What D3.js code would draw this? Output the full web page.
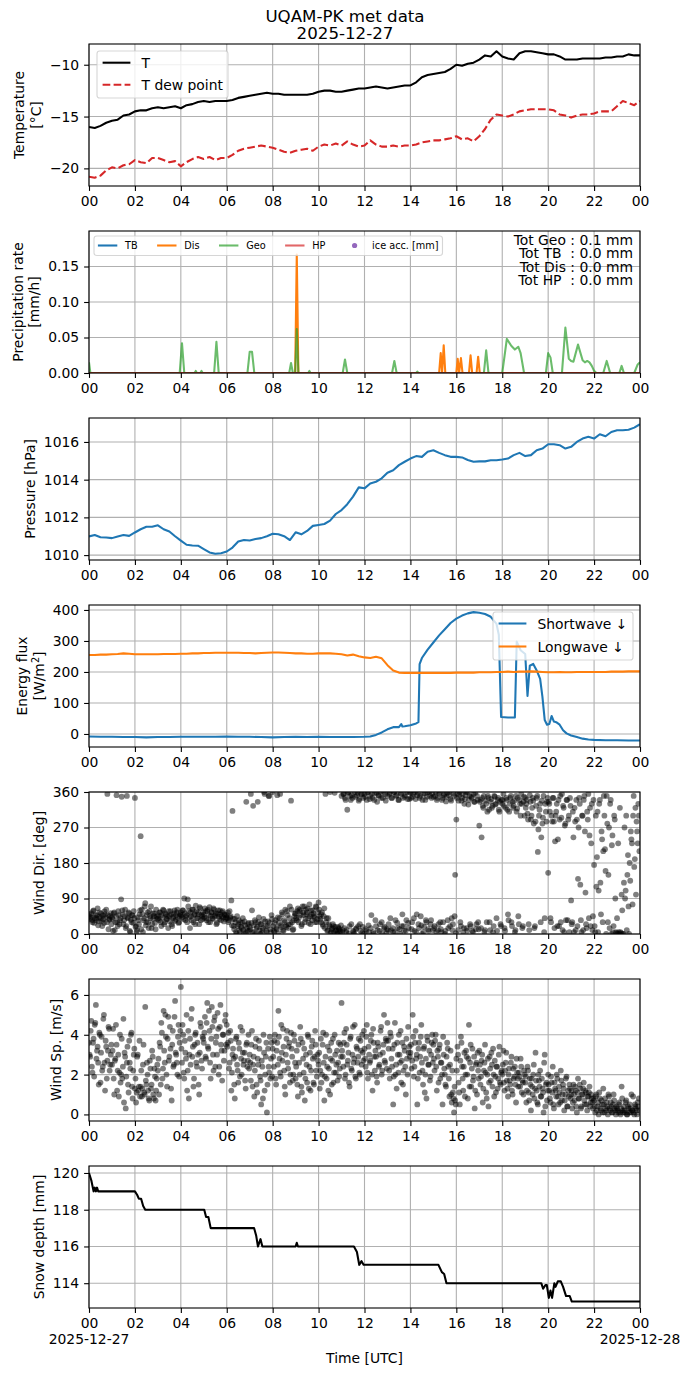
<!DOCTYPE html>
<html lang="en">
<head>
<meta charset="utf-8">
<title>UQAM-PK met data</title>
<script src="https://cdn.jsdelivr.net/npm/d3@7"></script>
<style>
  body { margin: 0; background: #fff; }
  svg text { font-family: "DejaVu Sans", sans-serif; fill: #000; }
  .tick text { font-size: 13.9px; }
  .tick line { stroke: #000; stroke-width: 1.1px; }
  .grid line { stroke: #b0b0b0; stroke-width: 1.1px; }
  .lbl { font-size: 13.9px; }
</style>
</head>
<body>
<svg id="fig" width="690" height="1377"></svg>
<script>
// ---------- data, hours UTC on 2025-12-27 ----------
// 15-minute samples (0, 0.25, ... 24 h)
const quarterHours = d3.range(0, 24.001, 0.25);

const tempAir = [
  -16.0,-16.1,-15.9,-15.6,  -15.4,-15.3,-14.9,-14.8,  -14.5,-14.4,-14.4,-14.2,
  -14.1,-14.2,-14.1,-14.0,  -14.2,-13.9,-13.8,-13.6,  -13.5,-13.6,-13.5,-13.5,
  -13.5,-13.4,-13.2,-13.1,  -13.0,-12.9,-12.8,-12.7,  -12.8,-12.8,-12.9,-12.9,
  -12.9,-12.9,-12.9,-12.8,  -12.6,-12.5,-12.5,-12.6,  -12.6,-12.5,-12.4,-12.3,
  -12.3,-12.2,-12.1,-12.2,  -12.3,-12.2,-12.1,-12.0,  -12.0,-11.7,-11.2,-11.0,
  -10.9,-10.8,-10.7,-10.4,  -10.0,-10.1,-9.9,-9.8,    -9.5,-9.1,-9.2,-8.7,
  -9.2,-9.4,-9.5,-8.9,      -8.7,-8.7,-8.8,-8.9,      -9.0,-9.0,-9.2,-9.5,
  -9.5,-9.5,-9.4,-9.4,      -9.4,-9.4,-9.3,-9.3,      -9.2,-9.2,-9.0,-9.1,
  -9.1
];
const tempDew = [
  -20.8,-20.9,-20.7,-20.2,  -19.9,-20.0,-19.7,-19.6,  -19.2,-19.4,-19.5,-19.0,
  -19.0,-19.2,-19.4,-19.3,  -19.8,-19.4,-19.1,-18.9,  -19.1,-18.9,-19.2,-19.0,
  -19.0,-18.7,-18.3,-18.1,  -18.0,-17.9,-17.8,-17.9,  -18.0,-18.2,-18.4,-18.5,
  -18.3,-18.2,-18.1,-18.3,  -17.9,-17.7,-17.8,-17.6,  -17.8,-17.4,-17.7,-17.9,
  -17.8,-17.3,-17.7,-17.9,  -17.9,-17.8,-17.9,-17.8,  -17.8,-17.7,-17.5,-17.4,
  -17.3,-17.3,-17.2,-17.1,  -16.9,-17.2,-17.1,-17.4,  -16.9,-16.2,-15.3,-14.8,
  -14.9,-15.0,-14.8,-14.5,  -14.4,-14.3,-14.3,-14.3,  -14.3,-14.4,-14.8,-14.9,
  -15.1,-14.9,-14.8,-14.8,  -14.7,-14.5,-14.5,-14.5,  -14.0,-13.5,-13.7,-13.9,
  -13.5
];
const pressure = [
  1010.99,1011.07,1010.95,1010.93, 1010.90,1010.99,1011.07,1011.02,
  1011.20,1011.37,1011.50,1011.50, 1011.58,1011.37,1011.25,1011.00,
  1010.77,1010.55,1010.51,1010.50, 1010.32,1010.14,1010.07,1010.10,
  1010.19,1010.40,1010.72,1010.80, 1010.77,1010.85,1010.90,1011.00,
  1011.13,1011.11,1011.00,1010.80, 1011.21,1011.10,1011.28,1011.55,
  1011.60,1011.65,1011.83,1012.18, 1012.39,1012.70,1013.10,1013.59,
  1013.54,1013.80,1013.89,1014.07, 1014.37,1014.50,1014.77,1014.95,
  1015.12,1015.25,1015.21,1015.48, 1015.56,1015.42,1015.30,1015.21,
  1015.21,1015.18,1015.04,1014.95, 1014.97,1014.97,1015.03,1015.03,
  1015.07,1015.12,1015.30,1015.42, 1015.25,1015.30,1015.56,1015.65,
  1015.88,1015.88,1015.83,1015.65, 1015.74,1016.00,1016.18,1016.27,
  1016.18,1016.41,1016.30,1016.53, 1016.62,1016.62,1016.65,1016.76,
  1016.94
];
const longwave = [
  255,255,256,256, 257,258,260,259, 257,257,257,257, 257,258,258,258,
  259,259,260,260, 261,261,262,262, 262,262,262,261, 261,260,261,262,
  263,263,262,261, 260,260,259,259, 260,260,260,259, 257,253,256,251,
  247,245,249,244, 222,205,198,197, 197,197,197,197, 197,197,197,197,
  198,198,198,198, 199,199,199,200, 200,201,200,201, 201,202,201,200,
  199,199,200,199, 199,200,200,200, 200,200,200,201, 201,201,202,202,
  202
];

// shortwave, irregular times (sharp cloud edges)
const swHours = [0,0.5,1,1.5,2,2.5,3,3.5,4,4.5,5,5.5,6,6.5,7,7.5,8,8.5,9,9.5,10,10.5,11,11.5,
  12,12.25,12.5,12.75,13,13.25,13.5,13.6,13.65,13.75,14,14.25,14.35,14.4,14.5,14.75,
  15,15.25,15.5,15.75,16,16.25,16.5,16.75,17,17.25,17.5,17.75,17.85,17.95,18.25,18.55,
  18.63,18.8,19.0,19.1,19.2,19.35,19.5,19.65,19.75,19.85,19.95,20.05,20.15,20.25,20.35,
  20.5,20.65,20.8,21.0,21.25,21.5,21.75,22,22.5,23,23.5,24];
const swFlux = [-8,-9,-9,-10,-10,-11,-10,-10,-9,-9,-9,-9,-8,-9,-9,-10,-11,-10,-9,-10,-9,-10,-10,-10,
  -9,-8,-3,5,15,22,22,32,24,25,28,34,38,225,245,272,
  295,318,338,358,372,382,389,393,391,387,378,355,320,55,53,53,
  298,270,258,123,220,226,205,178,120,45,30,32,58,40,38,
  30,12,2,-5,-10,-15,-18,-19,-20,-20,-21,-21];

// precipitation rate [mm/h]
const geoHours = [0,0.06,3.95,4.05,4.15,4.6,4.65,4.7,4.85,4.9,4.95,5.45,5.55,5.65,6.9,7.0,7.1,7.2,
  8.72,8.8,8.88,8.98,9.05,9.12,9.55,9.6,9.65,11.05,11.15,11.25,13.2,13.3,13.4,14.25,14.3,14.35,
  17.2,17.3,17.4,18.0,18.2,18.4,18.55,18.7,18.8,18.95,19.9,20.0,20.1,20.2,
  20.6,20.75,20.9,21.0,21.1,21.3,21.5,21.6,21.7,21.8,21.9,22.0,22.1,22.4,22.55,22.7,
  23.1,23.2,23.3,23.75,23.9,24];
const geoRate = [0.015,0,0,0.042,0,0,0.003,0,0,0.003,0,0,0.044,0,0,0.030,0.030,0,
  0,0.014,0,0,0.062,0,0,0.003,0,0,0.019,0,0,0.017,0,0,0.002,0,
  0,0.032,0,0,0.048,0.038,0.033,0.037,0.028,0,0,0.028,0.022,0,
  0,0.064,0.020,0.017,0.016,0.040,0.018,0.015,0.017,0.015,0.010,0.003,0,0,0.017,0,
  0,0.010,0,0,0.012,0.015];
const disHours = [0,8.98,9.05,9.12,15.25,15.32,15.38,15.45,15.52,16.0,16.06,16.12,16.2,16.27,
  16.55,16.62,16.69,16.88,16.95,17.02,24];
const disRate = [0,0,0.167,0,0,0.028,0,0.039,0,0,0.020,0,0.021,0,0,0.025,0,0,0.023,0,0];
const tbHours = [0, 24], tbRate = [0, 0];
const hpHours = [0, 24], hpRate = [0, 0];
const precipTotals = ["Tot Geo : 0.1 mm", "Tot TB  : 0.0 mm", "Tot Dis : 0.0 mm", "Tot HP  : 0.0 mm"];

// wind, sampled every 3 minutes (20 per hour), two interleaved readings
const windDir = [
  45,38,52,30,60,41,35,48,22,55,40,33,47,28,50,62,355,12,38,53,
  42,8,55,30,352,20,48,35,88,60,25,45,15,350,40,52,5,30,47,58,
  345,20,10,35,50,248,62,5,40,78,30,55,15,45,70,25,38,52,12,44,
  48,35,55,20,42,60,30,50,38,15,45,58,25,40,52,33,48,62,28,45,
  55,42,60,90,35,48,88,58,15,45,62,30,50,72,40,55,25,65,48,38,
  50,65,40,58,30,68,45,55,38,62,48,25,52,44,60,35,55,42,50,38,
  48,55,35,42,85,312,20,38,5,45,25,10,30,15,40,2,22,335,8,28,
  18,355,60,325,5,30,15,335,42,0,25,10,38,355,20,5,32,350,12,48,
  360,8,28,15,352,2,40,22,55,10,35,62,18,48,25,70,338,30,12,45,
  52,35,65,42,58,20,70,48,30,62,55,40,75,25,50,60,45,30,68,38,
  80,45,30,55,20,65,355,40,10,25,360,5,15,20,358,8,2,18,12,5,
  350,10,355,345,5,315,360,20,340,352,8,0,348,15,358,338,25,355,3,345,
  355,12,340,360,5,350,48,345,0,358,20,335,352,8,360,30,345,15,355,2,
  350,25,358,10,345,5,360,35,352,15,340,0,355,50,20,348,8,360,28,342,
  358,12,348,40,360,5,352,25,345,45,0,355,18,340,30,360,8,350,35,356,
  348,20,360,340,10,355,30,5,345,352,0,336,358,15,360,342,40,25,350,150,
  290,355,338,360,20,345,5,330,352,15,360,340,25,348,8,355,335,12,350,30,
  275,340,245,325,350,10,330,310,345,30,335,320,5,350,328,40,340,315,335,20,
  330,355,15,320,340,50,310,345,30,335,325,5,350,318,45,340,300,330,20,348,
  345,330,305,25,352,290,320,338,15,285,345,208,300,330,245,280,350,40,310,335,
  155,330,40,300,345,285,235,310,20,340,290,30,355,325,5,280,340,35,300,345,
  85,30,245,320,10,290,140,345,125,5,300,340,260,25,310,355,250,20,330,45,
  175,5,120,310,110,340,50,240,210,300,160,350,30,270,330,0,250,20,290,5,
  40,230,0,5,100,0,130,90,300,150,70,180,260,230,300,170,320,285,230,300
];
const windDirB = [
  50,42,35,58,28,47,40,65,32,44,52,20,38,57,43,30,48,36,45,25,
  38,52,10,45,30,58,25,40,348,50,35,62,20,42,55,8,36,48,28,40,
  18,5,42,25,60,12,50,35,70,22,48,30,58,40,15,52,45,28,62,38,
  40,55,30,48,62,25,52,38,45,58,32,50,20,44,60,36,55,42,30,50,
  48,60,38,52,45,30,70,42,55,35,62,48,25,58,40,50,68,35,45,55,
  42,58,35,62,48,30,55,40,65,45,52,28,60,38,50,45,58,32,48,42,
  40,30,58,45,22,38,12,30,0,20,35,5,18,28,10,32,2,15,25,8,
  12,28,5,22,35,0,18,30,10,25,2,15,360,32,8,20,350,28,5,38,
  20,5,35,12,42,28,355,18,50,8,30,22,58,15,40,25,62,10,35,52,
  40,58,30,62,48,25,55,70,38,50,65,28,45,60,35,52,42,70,30,55,
  62,38,50,25,45,15,30,8,40,20,2,12,25,5,18,10,0,15,8,22,
  5,355,15,340,10,358,0,350,25,345,5,360,12,352,20,342,8,355,18,0,
  348,8,360,22,342,15,355,5,340,35,358,10,350,25,345,2,360,18,338,12,
  10,355,40,345,15,360,5,350,28,340,12,358,20,345,8,352,35,342,15,360,
  345,30,355,8,342,50,358,15,350,22,340,5,356,35,348,12,360,25,345,10,
  15,350,5,345,25,358,12,340,30,355,8,348,35,352,20,338,10,356,45,2,
  345,10,352,30,338,355,15,342,360,8,328,350,20,345,5,335,358,25,340,12,
  335,15,345,320,5,338,30,350,315,10,342,325,20,348,330,8,345,310,25,340,
  340,325,8,345,315,35,330,350,20,320,338,10,310,345,25,330,355,15,335,300,
  320,340,290,10,335,300,345,280,20,325,350,265,315,30,338,295,5,330,285,345,
  335,310,30,285,345,15,300,330,240,20,350,295,10,320,275,35,340,290,5,325,
  25,310,5,285,340,20,270,330,35,300,10,350,105,15,290,40,320,230,10,340,
  20,300,195,5,330,130,260,30,350,215,0,280,150,15,340,225,5,300,90,2,
  0,5,320,2,60,0,270,110,10,200,0,135,240,75,350,190,100,260,330,210
];
const windSpeed = [
  3.6,2.9,4.7,2.1,3.8,4.5,5.5,3.2,2.6,4.1,1.6,3.9,2.4,5.0,1.2,3.4,2.7,4.4,2.2,3.0,
  2.5,4.3,1.0,2.8,3.5,2.2,0.9,4.0,2.0,1.8,4.8,3.1,0.3,2.6,1.5,3.7,2.3,4.1,0.8,3.0,
  1.3,0.6,2.9,1.2,3.7,1.4,0.9,2.5,1.1,5.4,1.5,2.0,0.8,2.7,1.3,3.2,1.0,2.3,0.7,1.8,
  2.2,1.0,3.4,4.6,1.8,5.2,2.6,3.9,1.4,4.9,2.9,3.3,0.7,4.2,2.5,5.7,3.0,2.0,4.5,3.6,
  6.4,2.6,4.0,1.8,3.1,5.0,2.2,0.8,3.8,4.8,2.9,1.4,3.5,4.1,2.4,3.0,1.0,4.6,2.7,3.9,
  3.6,4.9,2.8,5.6,3.3,4.2,1.8,5.4,3.0,4.7,2.4,3.9,5.1,2.0,4.4,3.5,1.7,4.0,3.2,5.0,
  4.5,3.6,2.3,4.2,1.2,3.0,2.8,0.8,3.8,2.5,1.6,3.3,4.4,2.0,3.1,2.7,1.7,3.5,2.4,4.0,
  3.0,1.7,4.2,2.5,0.9,3.4,1.5,2.8,3.7,1.9,0.5,2.4,4.0,1.2,2.9,0.1,3.3,2.1,1.8,3.6,
  3.3,2.4,4.0,1.5,3.6,5.2,2.8,1.9,3.1,4.3,2.2,1.0,3.8,2.6,3.4,1.6,4.1,2.9,2.0,3.7,
  1.8,3.2,0.9,2.6,4.4,1.4,3.6,2.1,0.7,3.0,1.6,3.9,2.4,1.2,3.4,2.8,1.5,4.2,2.2,3.0,
  2.5,1.3,3.8,2.0,4.1,0.7,2.9,1.8,3.4,2.3,1.0,3.6,2.7,1.6,4.0,2.1,3.2,2.6,1.9,3.5,
  5.6,2.9,3.6,1.8,4.3,2.5,3.1,1.4,3.9,2.2,4.4,2.8,1.9,3.4,2.6,3.8,2.0,3.2,4.0,2.7,
  3.3,2.4,4.5,1.8,3.0,2.7,4.0,1.2,3.6,2.2,2.9,1.6,3.4,2.5,4.2,2.0,3.1,5.0,2.6,3.7,
  4.6,3.3,1.8,3.9,2.4,0.5,3.5,2.0,1.3,3.0,4.0,2.6,1.6,3.6,2.2,3.2,1.0,2.8,4.4,3.4,
  3.1,2.3,5.0,1.9,3.6,2.8,0.5,3.3,2.1,3.9,2.6,1.5,3.4,2.0,0.8,3.7,2.5,1.7,3.0,4.0,
  3.5,2.2,4.0,1.2,2.9,3.3,1.8,2.6,0.5,3.0,2.0,1.4,3.6,2.4,0.9,3.2,0.6,1.1,0.1,0.7,
  2.8,3.4,1.6,0.5,3.9,2.4,1.2,3.1,2.0,2.9,0.8,4.5,2.6,1.4,3.3,1.9,0.3,2.5,1.0,2.2,
  3.2,1.5,2.7,0.6,2.2,3.5,1.1,2.0,0.4,2.9,1.7,2.5,3.3,0.9,1.9,2.4,1.3,3.0,1.6,2.1,
  2.0,3.2,1.2,2.6,1.7,0.9,2.3,1.5,2.9,1.0,1.8,2.4,0.6,2.1,1.4,1.9,2.8,1.1,1.6,2.2,
  1.6,0.6,2.4,1.1,1.8,0.2,1.4,2.0,0.8,3.1,1.2,0.5,1.7,2.2,0.9,1.3,0.1,3.0,1.5,0.7,
  2.0,1.2,0.6,1.6,2.4,0.3,1.3,0.9,1.8,0.5,1.1,2.2,0.7,1.5,0.2,1.0,1.9,0.4,0.9,1.3,
  1.0,0.3,1.5,0.7,1.2,0.1,1.8,0.8,1.3,0.4,1.0,1.6,0.5,1.1,0.2,0.9,1.4,0.6,0.8,0.3,
  0.7,0.1,1.0,0.4,0.0,0.8,0.2,0.5,1.3,0.1,0.3,0.6,0.0,0.9,0.2,0.4,0.1,1.0,0.3,0.0,
  0.3,0.1,0.6,0.0,1.4,0.2,0.4,0.1,0.7,0.0,0.3,0.5,0.1,0.2,0.9,0.0,0.4,0.2,0.6,0.8
];
const windSpeedB = [
  3.0,4.2,2.4,3.6,1.9,4.6,2.8,3.4,1.5,4.0,3.1,2.2,4.8,2.6,3.7,1.8,3.2,4.3,2.5,3.5,
  3.2,1.8,2.7,4.5,1.2,3.0,2.1,1.6,3.8,2.4,0.6,2.9,1.9,3.4,1.1,2.6,4.0,1.4,2.2,3.3,
  1.8,1.1,3.0,1.4,0.9,2.2,1.3,3.5,1.0,1.7,2.6,1.2,0.7,2.3,1.5,2.9,0.8,1.9,1.2,2.5,
  2.8,3.6,1.5,4.1,2.3,3.2,5.0,2.0,3.8,2.7,4.4,1.3,3.5,2.4,4.9,3.1,2.6,3.9,1.9,4.2,
  3.3,4.5,2.1,3.7,2.8,1.2,4.2,3.0,2.5,5.3,3.4,1.8,4.0,2.6,3.6,1.5,3.1,4.4,2.3,3.8,
  4.1,2.9,4.6,3.4,5.2,2.6,3.8,4.4,2.2,4.9,3.6,3.0,4.3,2.4,5.5,3.2,4.0,2.7,4.7,3.5,
  3.4,4.1,2.6,3.7,2.1,3.3,1.5,2.9,3.9,2.2,3.6,1.9,2.8,4.2,2.5,3.1,1.3,3.6,2.7,2.3,
  2.6,3.5,1.4,2.9,2.2,3.8,1.1,2.5,3.3,1.7,2.7,0.8,3.1,2.0,3.6,1.5,2.4,3.9,2.8,1.9,
  2.9,3.7,1.8,3.2,2.5,3.9,2.1,4.5,2.7,3.4,1.4,3.0,4.2,2.3,3.6,2.0,3.3,1.7,4.0,2.6,
  2.4,1.5,3.5,2.0,3.8,1.1,2.8,3.3,1.8,2.5,4.0,1.3,3.1,2.2,3.7,1.6,2.9,3.5,1.9,2.7,
  3.1,2.2,1.6,3.5,2.6,1.9,4.0,2.4,1.2,3.2,2.8,1.5,3.8,2.1,3.0,2.5,1.7,3.6,2.3,2.9,
  3.2,2.4,4.1,2.0,3.5,2.7,1.6,3.8,2.3,3.0,2.6,4.5,1.8,3.3,2.9,2.1,3.7,2.5,3.1,4.2,
  2.8,3.9,2.1,3.4,2.6,3.7,2.0,4.3,2.9,3.2,1.9,3.6,2.4,3.0,4.4,2.2,3.5,2.7,3.8,2.3,
  3.7,2.2,4.1,2.8,3.3,1.9,4.6,2.5,3.6,2.1,3.0,4.2,2.7,1.5,3.4,2.4,3.8,2.0,3.1,2.9,
  3.5,2.7,3.9,2.4,4.2,3.0,1.8,3.6,2.9,4.5,2.2,3.3,1.1,2.8,3.9,2.5,3.2,1.9,3.6,2.6,
  2.8,3.7,2.4,3.2,1.6,3.5,2.6,2.0,3.9,2.3,1.5,2.9,3.3,1.8,2.5,1.0,2.2,0.8,1.4,0.5,
  2.2,3.0,1.1,2.7,3.6,1.8,2.4,0.9,3.2,2.0,2.8,1.4,3.5,2.3,1.7,2.9,1.2,2.6,3.1,1.8,
  2.5,1.9,3.0,1.3,2.6,2.1,0.8,2.8,1.6,2.3,3.1,1.4,2.0,2.7,1.1,2.4,1.8,3.4,1.5,2.2,
  2.5,1.6,2.2,3.1,1.3,2.0,1.7,2.6,1.2,2.3,1.9,1.5,2.8,1.8,2.1,1.4,2.4,1.7,1.0,2.0,
  1.9,1.2,2.2,0.7,1.5,1.8,1.0,2.5,1.3,1.7,0.6,2.0,1.4,0.9,1.8,1.1,2.6,0.4,1.6,1.2,
  1.5,0.8,1.9,1.1,0.5,1.6,1.2,2.0,0.9,1.4,0.6,1.7,1.0,1.3,0.7,1.8,0.4,1.2,1.5,0.8,
  1.2,0.6,1.0,1.4,0.4,1.1,0.8,1.5,0.3,1.0,1.3,0.7,1.2,0.5,0.9,1.1,0.4,1.0,0.6,0.8,
  0.4,0.9,0.2,0.6,1.1,0.3,0.7,0.1,0.5,0.8,0.2,0.4,1.0,0.3,0.6,0.1,0.5,0.7,0.2,0.4,
  0.2,0.5,0.1,0.3,0.8,0.1,0.2,0.6,0.0,0.4,0.1,0.3,1.0,0.2,0.1,0.5,0.3,0.0,0.4,0.2
];
const windHours = windSpeed.map((_, i) => i * 0.05);
const windHoursB = windSpeedB.map((_, i) => i * 0.05 + 0.025);

// snow depth, step changes
const snowHours = [0,0.1,0.2,0.25,0.3,0.35,0.4,2.0,2.1,2.17,2.27,2.36,2.45,5.02,5.1,5.2,5.3,
  7.19,7.28,7.36,7.47,7.55,9.0,9.05,9.1,11.54,11.67,11.77,11.87,11.96,15.22,15.37,15.47,15.57,
  19.7,19.78,19.88,19.94,20.03,20.1,20.17,20.27,20.32,20.42,20.55,20.65,20.78,20.94,21.03,24];
const snowDepth = [120,119.6,119.0,119.2,119.0,119.2,119.0,119.0,118.8,118.6,118.6,118.2,118.0,
  118.0,117.6,117.6,117.0,117.0,116.6,116.0,116.4,116.0,116.0,116.2,116.0,116.0,115.7,115.0,
  115.2,115.0,115.0,114.6,114.5,114.0,114.0,113.7,113.9,113.9,113.2,113.6,113.2,114.0,113.8,
  114.1,114.1,113.8,113.3,113.3,113.0,113.0];

const xTickHours = [0,2,4,6,8,10,12,14,16,18,20,22,24];

// ---------- layout ----------
const svg = d3.select("#fig");
const left = 89, right = 640, panelH = 142, step = 187, top0 = 44;
const x = d3.scaleLinear().domain([0, 24]).range([left, right]);
const defs = svg.append("defs");

function makePanel(i, domain, ticks, fmt) {
  const top = top0 + i * step, bottom = top + panelH;
  const y = d3.scaleLinear().domain(domain).range([bottom, top]);

  defs.append("clipPath").attr("id", "clip" + i)
    .append("rect").attr("x", left).attr("y", top).attr("width", right - left).attr("height", panelH);

  const grid = svg.append("g").attr("class", "grid");
  grid.selectAll("line.gx").data(xTickHours).join("line").attr("class", "gx")
    .attr("x1", d => x(d)).attr("x2", d => x(d)).attr("y1", top).attr("y2", bottom);
  grid.selectAll("line.gy").data(ticks).join("line").attr("class", "gy")
    .attr("x1", left).attr("x2", right).attr("y1", d => y(d)).attr("y2", d => y(d));

  const plot = svg.append("g").attr("clip-path", "url(#clip" + i + ")");
  const axes = svg.append("g");

  const xa = axes.append("g").attr("transform", "translate(0," + bottom + ")")
    .call(d3.axisBottom(x).tickValues(xTickHours)
      .tickFormat(h => String(h % 24).padStart(2, "0"))
      .tickSize(4.9).tickPadding(4.9).tickSizeOuter(0));
  const ya = axes.append("g").attr("transform", "translate(" + left + ",0)")
    .call(d3.axisLeft(y).tickValues(ticks).tickFormat(fmt)
      .tickSize(4.9).tickPadding(4.9).tickSizeOuter(0));
  xa.select(".domain").remove();
  ya.select(".domain").remove();
  xa.attr("font-family", null).attr("font-size", null);
  ya.attr("font-family", null).attr("font-size", null);

  axes.append("rect").attr("x", left).attr("y", top)
    .attr("width", right - left).attr("height", panelH)
    .attr("fill", "none").attr("stroke", "#000").attr("stroke-width", 1.1);

  // y label sits left of the widest tick label, like matplotlib
  function ylabel(lines) {
    let minX = left;
    ya.selectAll(".tick text").each(function () {
      const b = this.getBBox();
      minX = Math.min(minX, left + b.x);
    });
    const base = minX - 5.6 - 3.3;
    const cy = (top + bottom) / 2;
    lines.forEach((ln, k) => {
      const bx = base - (lines.length - 1 - k) * 16.7;
      const t = axes.append("text").attr("class", "lbl")
        .attr("text-anchor", "middle")
        .attr("transform", "translate(" + bx + "," + cy + ") rotate(-90)");
      if (typeof ln === "string") t.text(ln); else ln(t);
    });
  }
  return { top, bottom, y, plot, axes, ylabel };
}

function drawLine(p, hours, vals, color, extra) {
  const line = d3.line().x((d, i) => x(hours[i])).y(d => p.y(d));
  const path = p.plot.append("path").datum(vals)
    .attr("d", line).attr("fill", "none")
    .attr("stroke", color).attr("stroke-width", 2.08)
    .attr("stroke-linejoin", "round");
  if (extra) extra(path);
  return path;
}

function drawDots(p, hours, vals) {
  p.plot.append("g").selectAll("circle").data(vals).join("circle")
    .attr("cx", (d, i) => x(hours[i])).attr("cy", d => p.y(d))
    .attr("r", 2.9).attr("fill", "#000").attr("fill-opacity", 0.5);
}

function legendBox(g, x0, y0, w, h) {
  g.append("rect").attr("x", x0).attr("y", y0).attr("width", w).attr("height", h)
    .attr("rx", 2.8).attr("fill", "#fff").attr("fill-opacity", 0.8)
    .attr("stroke", "#cccccc").attr("stroke-width", 1.1).attr("stroke-opacity", 0.8);
}

// ---------- title ----------
svg.append("text").attr("x", 345).attr("y", 22).attr("text-anchor", "middle")
  .style("font-size", "16.67px").text("UQAM-PK met data");
svg.append("text").attr("x", 345).attr("y", 38.5).attr("text-anchor", "middle")
  .style("font-size", "16.67px").text("2025-12-27");

// ---------- 1. temperature ----------
const p1 = makePanel(0, [-21.7, -8.0], [-20, -15, -10], d3.format("d"));
drawLine(p1, quarterHours, tempAir, "#000");
drawLine(p1, quarterHours, tempDew, "#d62728", s => s.attr("stroke-dasharray", "7.7,3.3"));
p1.ylabel(["Temperature", "[°C]"]);
{
  const g = p1.axes.append("g");
  legendBox(g, 97, 51, 131, 47);
  const rows = [["T", "#000", null], ["T dew point", "#d62728", "7.7,3.3"]];
  rows.forEach((r, k) => {
    const cy = 62.7 + k * 22;
    g.append("line").attr("x1", 102.6).attr("x2", 130.4).attr("y1", cy).attr("y2", cy)
      .attr("stroke", r[1]).attr("stroke-width", 2.08).attr("stroke-dasharray", r[2]);
    g.append("text").attr("class", "lbl").attr("x", 141.5).attr("y", cy + 5).text(r[0]);
  });
}

// ---------- 2. precipitation ----------
const p2 = makePanel(1, [0, 0.2], [0, 0.05, 0.10, 0.15], d3.format(".2f"));
drawLine(p2, tbHours, tbRate, "#1f77b4");
drawLine(p2, disHours, disRate, "#ff7f0e");
drawLine(p2, geoHours, geoRate, "#2ca02c", s => s.attr("stroke-opacity", 0.7));
drawLine(p2, hpHours, hpRate, "#d62728", s => s.attr("stroke-opacity", 0.7));
p2.ylabel(["Precipitation rate", "[mm/h]"]);
{
  const g = p2.axes.append("g");
  legendBox(g, 94, 236, 348.5, 19.5);
  const cy = 245.5;
  const items = [
    ["TB", "#1f77b4", 1, 97.9, 125.1],
    ["Dis", "#ff7f0e", 1, 157.1, 184.3],
    ["Geo", "#2ca02c", 0.7, 219.0, 246.2],
    ["HP", "#d62728", 0.7, 285.1, 312.3]
  ];
  items.forEach(it => {
    g.append("line").attr("x1", it[3]).attr("x2", it[3] + 19.4).attr("y1", cy).attr("y2", cy)
      .attr("stroke", it[1]).attr("stroke-opacity", it[2]).attr("stroke-width", 2.08);
    g.append("text").attr("x", it[4]).attr("y", cy + 3.5).style("font-size", "9.72px").text(it[0]);
  });
  g.append("circle").attr("cx", 354.6).attr("cy", cy).attr("r", 2.6).attr("fill", "#9467bd");
  g.append("text").attr("x", 372.1).attr("y", cy + 3.5).style("font-size", "9.72px").text("ice acc. [mm]");

  precipTotals.forEach((t, k) => {
    p2.axes.append("text").attr("x", 633).attr("y", 244.7 + k * 13.4)
      .attr("text-anchor", "end").attr("xml:space", "preserve")
      .style("white-space", "pre").style("font-size", "13.9px").text(t);
  });
}

// ---------- 3. pressure ----------
const p3 = makePanel(2, [1009.74, 1017.27], [1010, 1012, 1014, 1016], d3.format("d"));
drawLine(p3, quarterHours, pressure, "#1f77b4");
p3.ylabel(["Pressure [hPa]"]);

// ---------- 4. radiation ----------
const p4 = makePanel(3, [-42, 416], [0, 100, 200, 300, 400], d3.format("d"));
drawLine(p4, swHours, swFlux, "#1f77b4");
drawLine(p4, quarterHours, longwave, "#ff7f0e");
p4.ylabel(["Energy flux", t => {
  t.append("tspan").text("[W/m");
  t.append("tspan").attr("dy", -5).style("font-size", "9.7px").text("2");
  t.append("tspan").attr("dy", 5).text("]");
}]);
{
  const g = p4.axes.append("g");
  legendBox(g, 493, 612, 140, 48);
  const rows = [["Shortwave \u2193", "#1f77b4"], ["Longwave \u2193", "#ff7f0e"]];
  rows.forEach((r, k) => {
    const cy = 623.5 + k * 23;
    g.append("line").attr("x1", 498.6).attr("x2", 526.4).attr("y1", cy).attr("y2", cy)
      .attr("stroke", r[1]).attr("stroke-width", 2.08);
    g.append("text").attr("class", "lbl").attr("x", 537.5).attr("y", cy + 5).text(r[0]);
  });
}

// ---------- 5. wind direction ----------
const p5 = makePanel(4, [0, 360], [0, 90, 180, 270, 360], d3.format("d"));
drawDots(p5, windHours, windDir);
drawDots(p5, windHoursB, windDirB);
p5.ylabel(["Wind Dir. [deg]"]);

// ---------- 6. wind speed ----------
const p6 = makePanel(5, [-0.33, 6.8], [0, 2, 4, 6], d3.format("d"));
drawDots(p6, windHours, windSpeed);
drawDots(p6, windHoursB, windSpeedB);
p6.ylabel(["Wind Sp. [m/s]"]);

// ---------- 7. snow depth ----------
const p7 = makePanel(6, [112.65, 120.38], [114, 116, 118, 120], d3.format("d"));
drawLine(p7, snowHours, snowDepth, "#000");
p7.ylabel(["Snow depth [mm]"]);
[[0, "2025-12-27"], [24, "2025-12-28"]].forEach(d => {
  p7.axes.append("text").attr("class", "lbl").attr("x", x(d[0])).attr("y", p7.bottom + 36.4)
    .attr("text-anchor", "middle").text(d[1]);
});
p7.axes.append("text").attr("class", "lbl").attr("x", (left + right) / 2).attr("y", 1363)
  .attr("text-anchor", "middle").text("Time [UTC]");
</script>
</body>
</html>
